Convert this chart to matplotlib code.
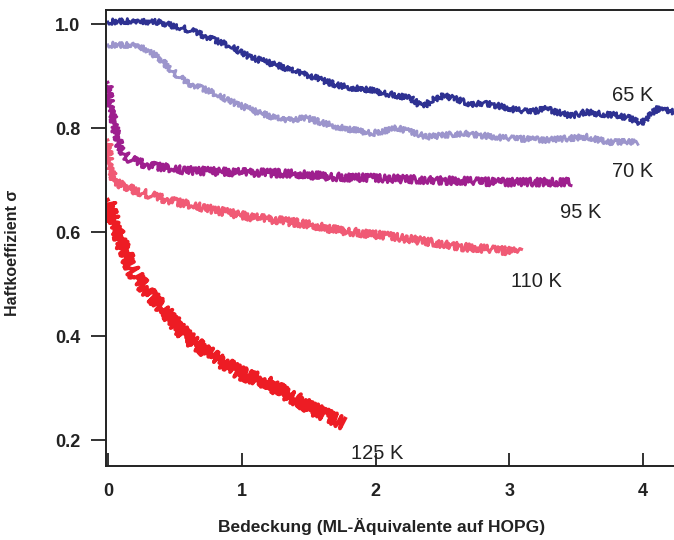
import numpy as np
import matplotlib
matplotlib.use('Agg')
import matplotlib.pyplot as plt

plt.rcParams['font.family'] = ['Liberation Sans', 'DejaVu Sans']

# Messkurven: Haftkoeffizient gegen Bedeckung
x_65 = [0.00, 0.13, 0.24, 0.37, 0.46, 0.54, 0.65, 0.74, 0.84, 0.93, 1.02, 1.08, 1.21, 1.31,
        1.40, 1.49, 1.60, 1.71, 1.81, 1.92, 2.03, 2.15, 2.26, 2.32, 2.36, 2.42, 2.51, 2.60,
        2.71, 2.82, 2.93, 3.04, 3.16, 3.27, 3.38, 3.46, 3.57, 3.68, 3.79, 3.90, 3.98, 4.04,
        4.11, 4.17, 4.23]
y_65 = [1.004, 1.006, 1.004, 1.004, 0.998, 0.994, 0.985, 0.975, 0.965, 0.956, 0.942, 0.935,
        0.925, 0.917, 0.908, 0.902, 0.892, 0.883, 0.877, 0.875, 0.869, 0.863, 0.858, 0.846,
        0.840, 0.854, 0.862, 0.856, 0.846, 0.848, 0.842, 0.835, 0.831, 0.837, 0.829, 0.823,
        0.831, 0.827, 0.825, 0.819, 0.808, 0.821, 0.838, 0.835, 0.831]

x_70 = [0.00, 0.19, 0.29, 0.37, 0.49, 0.59, 0.74, 0.93, 1.11, 1.31, 1.49, 1.71, 1.98, 2.16,
        2.39, 2.66, 2.95, 3.28, 3.58, 3.73, 3.96]
y_70 = [0.960, 0.960, 0.950, 0.937, 0.908, 0.887, 0.873, 0.850, 0.831, 0.815, 0.819, 0.802,
        0.790, 0.800, 0.783, 0.790, 0.781, 0.777, 0.783, 0.773, 0.773]

x_95 = [0.00, 0.02, 0.05, 0.09, 0.15, 0.29, 0.56, 0.93, 1.31, 1.71, 2.41, 2.91, 3.46]
y_95 = [0.888, 0.845, 0.802, 0.763, 0.742, 0.729, 0.719, 0.715, 0.713, 0.706, 0.700, 0.696,
        0.696]

x_110 = [0.00, 0.015, 0.05, 0.19, 0.44, 0.69, 1.06, 1.44, 1.71, 2.16, 2.66, 3.06, 3.08]
y_110 = [0.777, 0.725, 0.696, 0.681, 0.662, 0.648, 0.629, 0.617, 0.604, 0.590, 0.571, 0.562,
         0.560]

x_125 = [0.00, 0.07, 0.19, 0.29, 0.44, 0.59, 0.79, 0.99, 1.19, 1.38, 1.59, 1.71, 1.76]
y_125 = [0.662, 0.598, 0.523, 0.488, 0.444, 0.398, 0.360, 0.329, 0.310, 0.283, 0.252, 0.238,
         0.233]

labels = ['65 K', '70 K', '95 K', '110 K', '125 K']
label_pos = [(3.77, 0.863), (3.77, 0.717), (3.38, 0.637), (3.01, 0.504), (1.82, 0.175)]
colors = ['#2e3192', '#9c95cc', '#9e1f8e', '#f05a75', '#ed1c24']

xs = [x_65, x_70, x_95, x_110, x_125]
ys = [y_65, y_70, y_95, y_110, y_125]
widths = [2.0, 2.0, 2.2, 2.2, 2.8]
# Rauschen der Messkurven als Linienstil (sketch)
wiggle = [2.8, 2.8, 4.0, 4.0, 6.5]

fig = plt.figure(figsize=(6.74, 5.4), dpi=100)
ax = fig.add_axes([0.157, 0.137, 0.843, 0.8445])

for x, y, c, w, s in zip(xs, ys, colors, widths, wiggle):
    line, = ax.plot(x, y, color=c, linewidth=w)
    line.set_sketch_params(scale=s, length=2.5, randomness=2.5)

for (tx, ty), lab in zip(label_pos, labels):
    ax.text(tx, ty, lab, fontsize=14.5, color='#222222', ha='left', va='center')

ax.set_xlim(-0.015, 4.23)
ax.set_ylim(0.15, 1.027)

ax.set_xticks([0, 1, 2, 3, 4])
ax.set_yticks([0.2, 0.4, 0.6, 0.8, 1.0])
ax.set_yticklabels(['0.2', '0.4', '0.6', '0.8', '1.0'])

ax.tick_params(axis='x', direction='in', length=9.5, width=1.3, pad=12,
               labelsize=13, colors='#222222')
ax.tick_params(axis='y', direction='out', length=10.5, width=1.3, pad=8,
               labelsize=13, colors='#222222')
for t in ax.get_xticklabels() + ax.get_yticklabels():
    t.set_fontweight('bold')

ax.spines['right'].set_visible(False)
for s in ['left', 'top', 'bottom']:
    ax.spines[s].set_linewidth(1.4)
    ax.spines[s].set_color('#222222')

ax.set_xlabel('Bedeckung (ML-Äquivalente auf HOPG)', fontsize=12.5, fontweight='bold',
              color='#222222')
ax.set_ylabel('Haftkoeffizient σ', fontsize=11.5, fontweight='bold', color='#222222')
ax.xaxis.set_label_coords(0.485, -0.113)
ax.yaxis.set_label_coords(-0.151, 0.467)

fig.savefig('out.png', dpi=100)
